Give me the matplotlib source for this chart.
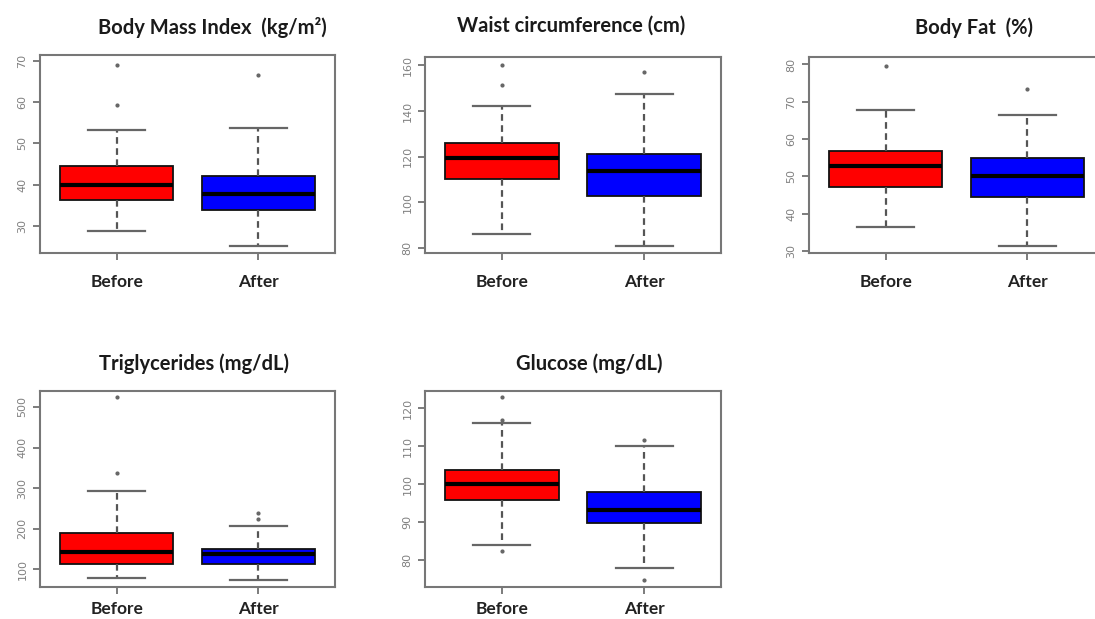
import matplotlib
matplotlib.use("Agg")
import matplotlib.pyplot as plt

# ---- data ----
titles = ["Body Mass Index  (kg/m²)", "Waist circumference (cm)", "Body Fat  (%)",
          "Triglycerides (mg/dL)", "Glucose (mg/dL)"]
groups = ["Before", "After"]

bmi_q1 = [36.3, 33.9]; bmi_med = [39.9, 37.7]; bmi_q3 = [44.6, 42.1]
bmi_lo = [28.9, 25.2]; bmi_hi = [53.2, 53.8]
bmi_fl = [[68.9, 59.4], [66.6]]

waist_q1 = [110.1, 103.0]; waist_med = [119.3, 113.8]; waist_q3 = [125.8, 121.2]
waist_lo = [86.1, 81.0]; waist_hi = [142.3, 147.4]
waist_fl = [[160.0, 151.3], [156.9]]

fat_q1 = [47.0, 44.3]; fat_med = [52.8, 50.1]; fat_q3 = [56.9, 54.9]
fat_lo = [36.5, 31.3]; fat_hi = [67.9, 66.4]
fat_fl = [[79.5], [73.5]]

tg_q1 = [114, 114]; tg_med = [142.7, 137]; tg_q3 = [189.5, 149.3]
tg_lo = [78.6, 74.6]; tg_hi = [292, 206.7]
tg_fl = [[524.6, 337.3], [238.8, 224]]

glu_q1 = [95.8, 89.9]; glu_med = [100.0, 93.2]; glu_q3 = [103.9, 97.9]
glu_lo = [84.0, 78.1]; glu_hi = [116.1, 110.1]
glu_fl = [[123.1, 116.9, 82.6], [111.8, 74.9]]

yticks = [[30, 40, 50, 60, 70], [80, 100, 120, 140, 160], [30, 40, 50, 60, 70, 80],
          [100, 200, 300, 400, 500], [80, 90, 100, 110, 120]]
ylims = [(23.5, 71.4), (77.9, 163.6), (29.4, 82.0), (56.4, 539.4), (73.0, 124.6)]

panels = [
    (bmi_q1, bmi_med, bmi_q3, bmi_lo, bmi_hi, bmi_fl),
    (waist_q1, waist_med, waist_q3, waist_lo, waist_hi, waist_fl),
    (fat_q1, fat_med, fat_q3, fat_lo, fat_hi, fat_fl),
    (tg_q1, tg_med, tg_q3, tg_lo, tg_hi, tg_fl),
    (glu_q1, glu_med, glu_q3, glu_lo, glu_hi, glu_fl),
]
colors = ["#FF0000", "#0000FF"]

# ---- layout (pixel boxes of each plot area) ----
W, H = 1095, 619
boxes_px = [(40, 55, 335, 253), (425, 57, 721, 253), (809, 57, 1104, 253),
            (40, 391, 335, 587), (425, 391, 721, 587)]
title_px = [(212, 27), (571, 26), (974, 28), (194, 364), (589, 364)]
xpads = [10, 10, 10, 5, 5]

fig = plt.figure(figsize=(W / 100, H / 100), dpi=100)
fig.patch.set_facecolor("white")

title_font = ["Lato", "DejaVu Sans"]
grey = "#808080"

for i, (q1, med, q3, lo, hi, fl) in enumerate(panels):
    x0, y0, x1, y1 = boxes_px[i]
    ax = fig.add_axes([x0 / W, 1 - y1 / H, (x1 - x0) / W, (y1 - y0) / H])
    stats = []
    for g in range(2):
        stats.append(dict(med=med[g], q1=q1[g], q3=q3[g], whislo=lo[g], whishi=hi[g],
                          fliers=fl[g], label=groups[g]))
    bp = ax.bxp(stats, positions=[1, 2], widths=0.8, patch_artist=True,
                boxprops=dict(edgecolor="#111111", linewidth=1.3),
                medianprops=dict(color="black", linewidth=3.0),
                whiskerprops=dict(color="#555555", linewidth=1.6, linestyle=(0, (3, 2))),
                capprops=dict(color="#666666", linewidth=1.6),
                flierprops=dict(marker="o", markersize=2.0, markerfacecolor="#666666",
                                markeredgecolor="#666666"),
                capwidths=0.4)
    for patch, c in zip(bp["boxes"], colors):
        patch.set_facecolor(c)
    ax.set_xlim(0.46, 2.54)
    ax.set_ylim(*ylims[i])
    ax.set_yticks(yticks[i])
    ax.set_yticklabels([str(t) for t in yticks[i]], rotation=90, va="center",
                       fontsize=8, color=grey)
    ax.set_xticks([1, 2])
    ax.set_xticklabels(groups, fontsize=12.5, fontweight="bold", family=title_font,
                       color="#222222")
    ax.tick_params(axis="both", colors="#666666", width=1.2, length=5)
    ax.tick_params(axis="y", labelcolor=grey, pad=4)
    ax.tick_params(axis="x", labelcolor="#222222", pad=xpads[i])
    for s in ax.spines.values():
        s.set_color("#777777")
        s.set_linewidth(1.5)
    tx, ty = title_px[i]
    fig.text(tx / W, 1 - ty / H, titles[i], ha="center", va="center",
             fontsize=14.5, fontweight="bold", family=title_font, color="#1a1a1a")

fig.savefig("out.png", dpi=100)
